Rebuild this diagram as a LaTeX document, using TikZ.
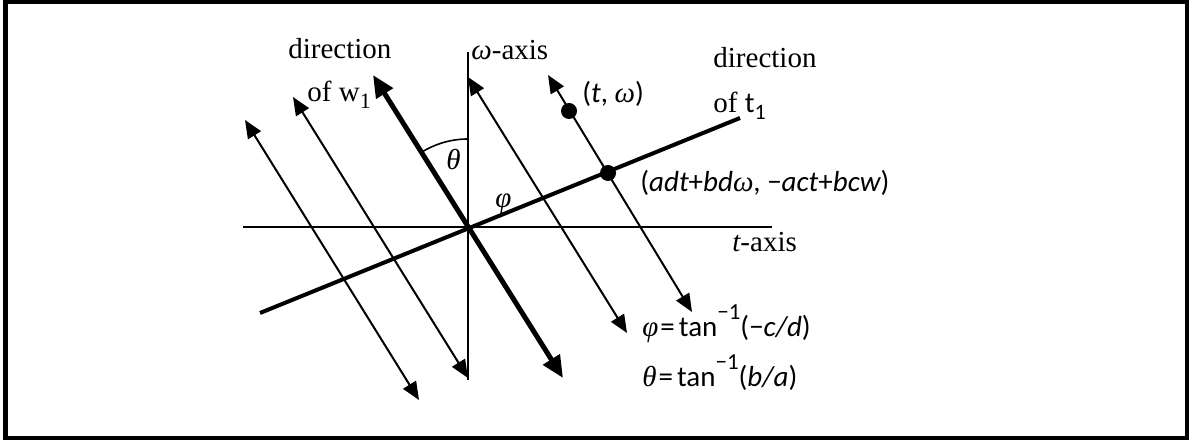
\documentclass[tikz,border=0pt]{standalone}
\usepackage{fontspec}
\setmainfont{Liberation Serif}
\newfontfamily\cbr{Carlito}
\usetikzlibrary{arrows.meta}
\newcommand\lowsub[1]{\raisebox{-0.22em}{\fontsize{11}{12}\selectfont #1}}
\newcommand\supm[1]{\raisebox{0.62em}{\fontsize{11.5}{12}\selectfont #1}}
\newcommand\gi[1]{{\rmfamily\itshape #1}}
\tikzset{
  frame/.style={line width=2.25pt},
  axis/.style={line width=1pt},
  thinarr/.style={line width=1pt, {Triangle[length=9pt,width=7.5pt]}-{Triangle[length=9pt,width=7.5pt]}},
  thickarr/.style={line width=2.5pt, {Triangle[length=11pt,width=9.5pt]}-{Triangle[length=11pt,width=9.5pt]}},
  tline/.style={line width=2pt},
  dot/.style={circle, fill=black, inner sep=0pt, minimum size=8pt},
  lbl/.style={anchor=base west, inner sep=0pt, font=\fontsize{14.5}{17}\selectfont},
}
\begin{document}
\begin{tikzpicture}[x=0.5pt,y=-0.5pt]
\useasboundingbox (0,0) rectangle (1198,442);
\draw[frame] (5.5,2.2) rectangle (1187,438);
% coordinates
\coordinate (O) at (468,227);
\coordinate (wtop) at (468,52);
\coordinate (wbot) at (468,380);
\coordinate (tl) at (243,227);
\coordinate (tr) at (772,227);
\coordinate (t1a) at (260,313);
\coordinate (t1b) at (740,118);
\coordinate (w1a) at (373,75);
\coordinate (w1b) at (563,378);
\coordinate (a1) at (245,120);
\coordinate (a2) at (419,400);
\coordinate (b1) at (293,97);
\coordinate (b2) at (468,378);
\coordinate (c1) at (468,77);
\coordinate (c2) at (627,333);
\coordinate (d1) at (548,75);
\coordinate (d2) at (692,312);
% axes
\draw[axis] (wtop) -- (wbot);
\draw[axis] (tl) -- (tr);
% thin arrows
\draw[thinarr] (a1) -- (a2);
\draw[thinarr] (b1) -- (b2);
\draw[thinarr] (c1) -- (c2);
\draw[thinarr] (d1) -- (d2);
% t1 direction
\draw[tline] (t1a) -- (t1b);
% w1 direction
\draw[thickarr] (w1a) -- (w1b);
% theta arc
\draw[line width=0.8pt] (468,139) arc[start angle=90, end angle=122, radius=44pt];
% dots
\node[dot] (p) at (569,111) {};
\node[dot] (q) at (608,173) {};
% labels
\node[lbl] (dirw) at (288,59) {direction};
\node[lbl] (ofw) at (307,102) {of w\lowsub{1}};
\node[lbl] (wax) at (471,60) {\gi{ω}-axis};
\node[lbl] (ptl) at (582,103) {{\cbr(\itshape t\upshape, }\gi{ω}{\cbr)}};
\node[lbl] (dirt) at (713,68) {direction};
\node[lbl] (oft) at (713,113) {of {\cbr t\lowsub{1}}};
\node[lbl] (qtl) at (640,192) {{\cbr(\itshape adt\upshape+\itshape bd}\gi{ω}{\cbr, −\itshape act\upshape+\itshape bcw\upshape)}};
\node[lbl] (tax) at (732,252) {\gi{t}-axis};
\node[lbl] (th) at (446,170) {\gi{θ}};
\node[lbl] (ph) at (495,208) {\gi{φ}};
\node[lbl] (eqp) at (642,337) {\gi{φ}{\cbr\kern1pt=\kern2pt tan\supm{−1}(−\itshape c/d\upshape)}};
\node[lbl] (eqt) at (642,387) {\gi{θ}{\cbr\kern1pt=\kern2pt tan\supm{−1}(\itshape b/a\upshape)}};
\end{tikzpicture}
\end{document}
